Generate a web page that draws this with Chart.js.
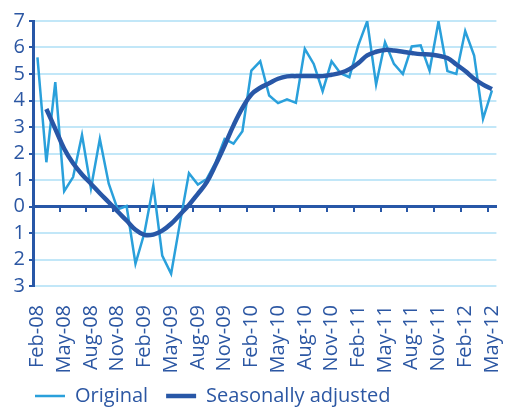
<!DOCTYPE html>
<html><head><meta charset="utf-8">
<script src="https://cdn.jsdelivr.net/npm/chart.js@4/dist/chart.umd.min.js"></script>
<style>html,body{margin:0;padding:0;background:#fff}</style>
</head><body>
<canvas id="c" width="527" height="408"></canvas>
<script>
const categories = [
  'Feb-08','Mar-08','Apr-08','May-08','Jun-08','Jul-08','Aug-08','Sep-08','Oct-08','Nov-08','Dec-08',
  'Jan-09','Feb-09','Mar-09','Apr-09','May-09','Jun-09','Jul-09','Aug-09','Sep-09','Oct-09','Nov-09','Dec-09',
  'Jan-10','Feb-10','Mar-10','Apr-10','May-10','Jun-10','Jul-10','Aug-10','Sep-10','Oct-10','Nov-10','Dec-10',
  'Jan-11','Feb-11','Mar-11','Apr-11','May-11','Jun-11','Jul-11','Aug-11','Sep-11','Oct-11','Nov-11','Dec-11',
  'Jan-12','Feb-12','Mar-12','Apr-12','May-12'
];
const original = [
  5.63, 1.67, 4.69, 0.58, 1.11, 2.70, 0.69, 2.55, 0.86, -0.11, 0.02,
  -2.16, -1.00, 0.79, -1.85, -2.54, -0.60, 1.26, 0.83, 1.04, 1.67, 2.55, 2.37,
  2.84, 5.13, 5.48, 4.19, 3.90, 4.04, 3.91, 5.95, 5.38, 4.35, 5.48, 5.03,
  4.88, 6.08, 6.99, 4.60, 6.20, 5.38, 5.00, 6.04, 6.08, 5.13, 6.98, 5.11,
  5.00, 6.62, 5.70, 3.31, 4.38
];
const seasonallyAdjusted = [
  null, 3.68, 2.93, 2.18, 1.63, 1.21, 0.86, 0.50, 0.16, -0.19, -0.53,
  -0.88, -1.07, -1.06, -0.91, -0.65, -0.30, 0.06, 0.48, 0.92, 1.58, 2.30, 3.06,
  3.72, 4.23, 4.48, 4.65, 4.82, 4.91, 4.92, 4.92, 4.92, 4.92, 4.97, 5.04,
  5.18, 5.41, 5.70, 5.84, 5.91, 5.89, 5.84, 5.79, 5.75, 5.74, 5.69, 5.60,
  5.36, 5.11, 4.82, 4.60, 4.43
];
const seriesNames = ['Original', 'Seasonally adjusted'];
const yMin = -3, yMax = 7, yStep = 1;
const labelEvery = 3;

const LIGHT = '#2aa0db';
const DARK = '#2857a7';
const TEXT = '#2c57a3';
const GRID = '#c2e7f8';
const FONT = "'Open Sans', sans-serif";

// place the legend block under the y axis and just below the rotated labels, as in the reference
const legendShift = {
  id: 'legendShift',
  afterLayout(chart) {
    const lg = chart.legend;
    if (lg) { lg.left += 17; lg.right += 17; lg.top -= 4; lg.bottom -= 4; }
  }
};

new Chart(document.getElementById('c'), {
  type: 'line',
  data: {
    labels: categories,
    datasets: [
      { label: seriesNames[0], data: original, borderColor: LIGHT, backgroundColor: LIGHT,
        borderWidth: 2.5, pointRadius: 0, tension: 0, order: 2 },
      { label: seriesNames[1], data: seasonallyAdjusted, borderColor: DARK, backgroundColor: DARK,
        borderWidth: 4.5, pointRadius: 0, tension: 0.4, borderCapStyle: 'butt', order: 1 }
    ]
  },
  plugins: [legendShift],
  options: {
    responsive: false,
    animation: false,
    layout: { padding: { top: 21, left: 0, right: 4.3, bottom: -12 } },
    plugins: {
      tooltip: { enabled: false },
      legend: {
        position: 'bottom',
        align: 'start',
        labels: {
          usePointStyle: true,
          pointStyle: 'line',
          pointStyleWidth: 30,
          padding: 18,
          color: TEXT,
          font: { family: FONT, size: 20 },
          sort: (a, b) => a.datasetIndex - b.datasetIndex
        }
      }
    },
    scales: {
      x: {
        type: 'category',
        offset: true,
        grid: { display: false, offset: true },
        border: { display: false },
        ticks: {
          autoSkip: false, minRotation: 90, maxRotation: 90, padding: 11,
          color: TEXT, font: { family: FONT, size: 20 },
          callback: function (v, i) { return i % labelEvery === 0 ? this.getLabelForValue(v) : ''; }
        },
        afterFit: (s) => { s.height = 86; }
      },
      xz: {
        type: 'category',
        position: { y: 0 },
        offset: true,
        grid: {
          offset: true, drawOnChartArea: false, drawTicks: true, tickLength: 4, lineWidth: 2,
          color: (ctx) => (ctx.index !== undefined && ctx.index > 0 && ctx.index % labelEvery === 0) ? DARK : 'rgba(0,0,0,0)'
        },
        border: { display: true, color: DARK, width: 3 },
        ticks: { display: false, autoSkip: false }
      },
      y: {
        min: yMin, max: yMax,
        grid: { color: GRID, lineWidth: 2, drawTicks: true, tickLength: 4, tickColor: DARK, tickWidth: 2 },
        border: { display: true, color: DARK, width: 3 },
        ticks: {
          stepSize: yStep, autoSkip: false, padding: 4, color: TEXT, font: { family: FONT, size: 20 },
          callback: (v) => String(Math.abs(v))
        },
        afterFit: (s) => { s.width = 33; }
      }
    }
  }
});
</script>
</body></html>
